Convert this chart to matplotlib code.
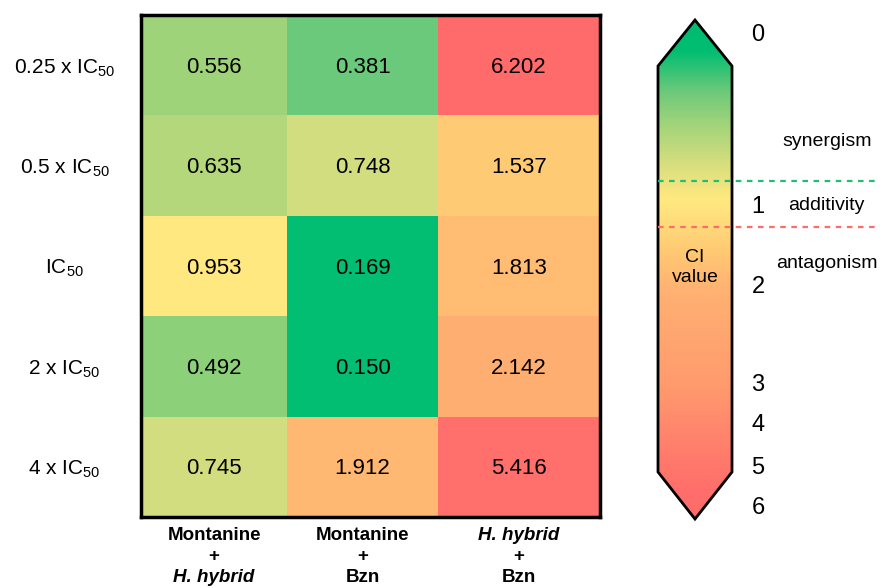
import numpy as np
import matplotlib
matplotlib.use('Agg')
import matplotlib.pyplot as plt
from matplotlib.colors import LinearSegmentedColormap, Normalize
from matplotlib.patches import Polygon
from matplotlib.transforms import blended_transform_factory

plt.rcParams['font.family'] = ['Liberation Sans', 'DejaVu Sans']
plt.rcParams['mathtext.fontset'] = 'custom'
plt.rcParams['mathtext.rm'] = 'Liberation Sans'
plt.rcParams['mathtext.it'] = 'Liberation Sans:italic'
plt.rcParams['mathtext.bf'] = 'Liberation Sans:bold'

# ---------------- data ----------------
row_labels = [r'0.25 x IC$_{50}$', r'0.5 x IC$_{50}$', r'IC$_{50}$',
              r'2 x IC$_{50}$', r'4 x IC$_{50}$']
col_top = ['Montanine', 'Montanine', 'H. hybrid']
col_bottom = ['H. hybrid', 'Bzn', 'Bzn']
col_top_italic = [False, False, True]
col_bottom_italic = [True, False, False]

ci_montanine_hhybrid = [0.556, 0.635, 0.953, 0.492, 0.745]
ci_montanine_bzn = [0.381, 0.748, 0.169, 0.150, 1.912]
ci_hhybrid_bzn = [6.202, 1.537, 1.813, 2.142, 5.416]

cbar_ticks = [0, 1, 2, 3, 4, 5, 6]
zone_labels = ['synergism', 'additivity', 'antagonism']
zone_bounds = [0.85, 1.25]

# ---------------- colour scale ----------------
scale_vals = [0.0, 0.17, 0.38, 0.56, 0.75, 0.95, 1.0, 1.54, 1.9, 2.14, 3.0, 5.4, 6.2]
scale_cols = ['#00BC70', '#02BE72', '#6CC97A', '#A2D47A', '#D2DD7E', '#FFE880',
              '#FFE57F', '#FFCA74', '#FFB872', '#FFAE72', '#FF9B6E', '#FF6F6B', '#FF6A6A']
vmin, vmax = 0.0, 6.2
cmap = LinearSegmentedColormap.from_list(
    'ci', [((v - vmin) / (vmax - vmin), c) for v, c in zip(scale_vals, scale_cols)], N=1024)
norm = Normalize(vmin=vmin, vmax=vmax)

# ---------------- layout ----------------
W, H = 880, 588
fig = plt.figure(figsize=(W / 100, H / 100), dpi=100)

hm_left, hm_right, hm_top, hm_bottom = 141, 600, 15, 517
ax = fig.add_axes([hm_left / W, 1 - hm_bottom / H, (hm_right - hm_left) / W,
                   (hm_bottom - hm_top) / H])
col_edges = np.array([0, 146, 297, 459])
row_edges = np.arange(len(row_labels) + 1)

values = np.column_stack([ci_montanine_hhybrid, ci_montanine_bzn, ci_hhybrid_bzn])
ax.pcolormesh(col_edges, row_edges, values, cmap=cmap, norm=norm)
ax.set_xlim(col_edges[0], col_edges[-1])
ax.set_ylim(row_edges[-1], row_edges[0])

col_centers = (col_edges[:-1] + col_edges[1:]) / 2
row_centers = (row_edges[:-1] + row_edges[1:]) / 2
for i in range(values.shape[0]):
    for j in range(values.shape[1]):
        ax.text(col_centers[j], row_centers[i] + 0.02, f'{values[i, j]:.3f}',
                ha='center', va='center', fontsize=16, color='black')

for s in ax.spines.values():
    s.set_linewidth(2.5)
    s.set_color('black')

ax.set_yticks(row_centers)
ax.set_yticklabels(row_labels, fontsize=15, ha='center')
ax.tick_params(axis='y', length=0, pad=55)
ax.set_xticks([])

# column labels (three lines)
tr = blended_transform_factory(ax.transData, fig.transFigure)
for j in range(len(col_top)):
    ax.text(col_centers[j], 1 - 535 / H, col_top[j], transform=tr, ha='center', va='center',
            fontsize=13.5, fontweight='bold',
            fontstyle='italic' if col_top_italic[j] else 'normal')
    ax.text(col_centers[j], 1 - 556 / H, '+', transform=tr, ha='center', va='center',
            fontsize=13.5, fontweight='bold')
    ax.text(col_centers[j], 1 - 578 / H, col_bottom[j], transform=tr, ha='center', va='center',
            fontsize=13.5, fontweight='bold',
            fontstyle='italic' if col_bottom_italic[j] else 'normal')

# ---------------- colour bar (arrow shape) ----------------
ov = fig.add_axes([0, 0, 1, 1])
ov.set_xlim(0, W)
ov.set_ylim(H, 0)
ov.axis('off')
ov.patch.set_visible(False)

cb_l, cb_r, cb_tip_top, cb_sh_top, cb_sh_bot, cb_tip_bot = 658, 732, 20, 66, 472, 519
cb_mid = (cb_l + cb_r) / 2
cbar_tick_y = [35, 207, 287, 385, 425, 468, 508]
grad_anchor_y = [cb_tip_top] + cbar_tick_y[1:-1] + [cb_tip_bot]

ys = np.arange(cb_tip_top, cb_tip_bot + 1)
grad_vals = np.interp(ys, grad_anchor_y, cbar_ticks)
rgba = cmap(norm(grad_vals))[:, None, :]
img = ov.imshow(rgba, extent=(cb_l, cb_r, cb_tip_bot + 0.5, cb_tip_top - 0.5),
                aspect='auto', interpolation='nearest')
poly_xy = [(cb_mid, cb_tip_top), (cb_r, cb_sh_top), (cb_r, cb_sh_bot), (cb_mid, cb_tip_bot),
           (cb_l, cb_sh_bot), (cb_l, cb_sh_top)]
poly = Polygon(poly_xy, closed=True, facecolor='none', edgecolor='black', linewidth=2,
               joinstyle='miter')
ov.add_patch(poly)
img.set_clip_path(poly)

for t, y in zip(cbar_ticks, cbar_tick_y):
    ov.text(758, y, str(t), ha='center', va='center', fontsize=17)

ov.text(cb_mid, 257, 'CI', ha='center', va='center', fontsize=14)
ov.text(cb_mid, 278, 'value', ha='center', va='center', fontsize=14)

zb_y = np.interp(zone_bounds, cbar_ticks, cbar_tick_y)
ov.plot([cb_l, W], [zb_y[0], zb_y[0]], color='#1DBF73', lw=1.6, ls=(0, (2.5, 2.5)))
ov.plot([cb_l, W], [zb_y[1], zb_y[1]], color='#FF6B6B', lw=1.6, ls=(0, (2.5, 2.5)))

ov.text(827, 142, zone_labels[0], ha='center', va='center', fontsize=14)
ov.text(826, 205, zone_labels[1], ha='center', va='center', fontsize=14)
ov.text(827, 263, zone_labels[2], ha='center', va='center', fontsize=14)

fig.savefig('out.png', dpi=100)
